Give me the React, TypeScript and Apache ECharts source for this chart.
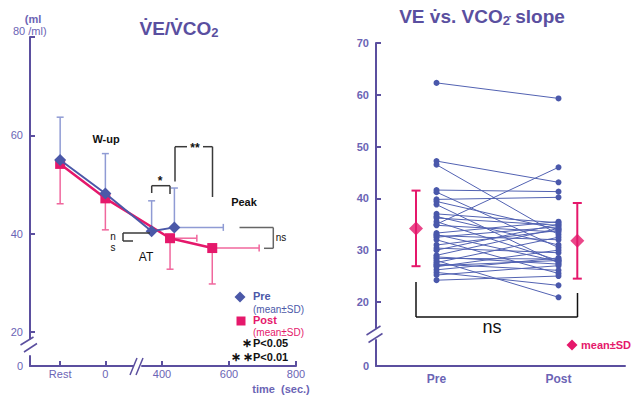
import React, { useEffect, useRef } from 'react';
import * as echarts from 'echarts';

// ---------- colours ----------
const AXIS = '#5b4f9f';
const LABEL = '#6b64b5';
const PRE_C = '#4b58a8';
const POST_C = '#e5186b';
const PRE_ERR = '#8f9bd4';
const POST_ERR = '#f0679d';
const DARK = '#3a3a3a';
const FONT = '"Liberation Sans", Arial, Helvetica, sans-serif';

// ---------- left chart data ----------
const REST_X = -135;
const X_TICKS = [REST_X, 0, 400, 600, 800];
const X_TICK_LABELS = ['Rest', '0', '400', '600', '800'];
const LEFT_Y_TICKS = [0, 20, 40, 60, 80];
const PHASES = ['Rest', 'W-up', 'AT', 'Peak'];
const PRE_TIME = [REST_X, 0, 369, 437];
const PRE_MEAN = [55.0, 48.2, 40.5, 41.3];
const PRE_SD = [8.7, 8.1, 6.2, 8.0];
const PRE_TIME_SD = [0, 0, 0, 146];
const POST_TIME = [REST_X, 0, 424, 550];
const POST_MEAN = [54.2, 47.2, 39.1, 37.1];
const POST_SD = [8.1, 6.4, 6.3, 7.3];
const POST_TIME_SD = [0, 0, 80, 140];

// ---------- right chart data ----------
const GROUPS = ['Pre', 'Post'];
const RIGHT_Y_TICKS = [0, 20, 30, 40, 50, 60, 70];
const SLOPE_PRE = [62.3, 47.2, 46.5, 41.6, 41.2, 39.8, 39.4, 38.8, 37.0, 36.5, 36.2, 35.5, 35.0, 34.8, 33.3, 33.0, 32.8, 32.5, 32.0, 31.0, 30.4, 30.0, 29.0, 28.7, 28.4, 28.0, 27.6, 27.3, 27.0, 26.8, 26.2, 25.7, 25.2, 24.2];
const SLOPE_POST = [59.3, 43.1, 33.0, 41.3, 30.5, 40.2, 34.0, 27.5, 35.3, 31.0, 34.8, 28.0, 46.0, 33.5, 35.5, 27.8, 32.0, 34.5, 25.5, 33.8, 29.5, 35.0, 34.2, 27.3, 28.3, 20.9, 32.5, 26.1, 28.0, 30.0, 28.5, 23.2, 27.0, 25.0];
const MEAN_SLOPE = [34.2, 31.8];
const SD_SLOPE = [7.3, 7.3];

// ---------- helpers ----------
const lineEl = (x1: number, y1: number, x2: number, y2: number, stroke = DARK, lw = 1.5) => ({
  type: 'line', silent: true, z: 100,
  shape: { x1, y1, x2, y2 }, style: { stroke, lineWidth: lw },
});
const textEl = (text: string, x: number, y: number, fill: string, font: string, align = 'center') => ({
  type: 'text', silent: true, z: 100, x, y,
  style: { text, fill, font, textAlign: align, textVerticalAlign: 'middle' },
});
const rectEl = (x: number, y: number, width: number, height: number, fill = '#fff') => ({
  type: 'rect', silent: true, z: 99, shape: { x, y, width, height }, style: { fill },
});

const vBar = (color: string, cap: number, lw: number, both = false) => (_p: any, api: any) => {
  const x = api.value(0);
  const a = api.coord([x, api.value(1)]);
  const b = api.coord([x, api.value(2)]);
  const children: any[] = [
    { type: 'line', shape: { x1: a[0], y1: a[1], x2: b[0], y2: b[1] }, style: { stroke: color, lineWidth: lw } },
    { type: 'line', shape: { x1: b[0] - cap / 2, y1: b[1], x2: b[0] + cap / 2, y2: b[1] }, style: { stroke: color, lineWidth: lw } },
  ];
  if (both) children.push({ type: 'line', shape: { x1: a[0] - cap / 2, y1: a[1], x2: a[0] + cap / 2, y2: a[1] }, style: { stroke: color, lineWidth: lw } });
  return { type: 'group', children };
};
const hBar = (color: string, cap: number, lw: number) => (_p: any, api: any) => {
  const y = api.value(1);
  const a = api.coord([api.value(0), y]);
  const b = api.coord([api.value(2), y]);
  return {
    type: 'group', children: [
      { type: 'line', shape: { x1: a[0], y1: a[1], x2: b[0], y2: b[1] }, style: { stroke: color, lineWidth: lw } },
      { type: 'line', shape: { x1: b[0], y1: b[1] - cap / 2, x2: b[0], y2: b[1] + cap / 2 }, style: { stroke: color, lineWidth: lw } },
    ],
  };
};

function buildOption(): any {
  const preV = PRE_TIME.map((t, i) => [t, PRE_MEAN[i], PRE_MEAN[i] + PRE_SD[i]]);
  const postV = POST_TIME.map((t, i) => [t, POST_MEAN[i], POST_MEAN[i] - POST_SD[i]]);
  const preH = PRE_TIME.map((t, i) => [t, PRE_MEAN[i], t + PRE_TIME_SD[i]]).filter((_, i) => PRE_TIME_SD[i] > 0);
  const postH = POST_TIME.map((t, i) => [t, POST_MEAN[i], t + POST_TIME_SD[i]]).filter((_, i) => POST_TIME_SD[i] > 0);

  const GROUP_X = [1, 2];
  const MEAN_OFFSET = [-0.168, 0.154];
  const meanPts = GROUP_X.map((g, i) => [g + MEAN_OFFSET[i], MEAN_SLOPE[i]]);
  const meanBars = GROUP_X.map((g, i) => [g + MEAN_OFFSET[i], MEAN_SLOPE[i] - SD_SLOPE[i], MEAN_SLOPE[i] + SD_SLOPE[i]]);

  const subjectSeries = SLOPE_PRE.map((v, i) => ({
    type: 'line', xAxisIndex: 1, yAxisIndex: 1, silent: true, z: 2,
    data: [[GROUP_X[0], v], [GROUP_X[1], SLOPE_POST[i]]],
    symbol: 'circle', symbolSize: 6,
    itemStyle: { color: '#4a58ab' },
    lineStyle: { color: '#5262b2', width: 1 },
  }));

  const axisLine = { show: true, onZero: false, lineStyle: { color: AXIS, width: 2 } };

  return {
    animation: false,
    backgroundColor: '#ffffff',
    grid: [
      { left: 30, top: 37, width: 266, height: 329 },
      { left: 376, top: 43, width: 249, height: 323 },
    ],
    xAxis: [
      {
        type: 'value', gridIndex: 0, min: -225, max: 800,
        breaks: [{ start: 90, end: 340, gap: '2.4%' }],
        breakArea: { show: false },
        axisLine,
        axisTick: { show: true, inside: true, length: 5, customValues: X_TICKS, lineStyle: { color: AXIS, width: 2 } },
        axisLabel: {
          customValues: X_TICKS, margin: 2, color: LABEL, fontSize: 11, fontFamily: FONT,
          formatter: (v: number) => X_TICK_LABELS[X_TICKS.indexOf(v)] ?? '',
        },
        splitLine: { show: false },
      },
      {
        type: 'value', gridIndex: 1, min: 0.504, max: 2.545,
        axisLine,
        axisTick: { show: false },
        axisLabel: {
          customValues: GROUP_X, margin: 7, color: LABEL, fontSize: 12, fontWeight: 'bold', fontFamily: FONT,
          formatter: (v: number) => GROUPS[GROUP_X.indexOf(v)] ?? '',
        },
        splitLine: { show: false },
      },
    ],
    yAxis: [
      {
        type: 'value', gridIndex: 0, min: 0, max: 80,
        breaks: [{ start: 2, end: 18, gap: '4.3%' }],
        breakArea: { show: false },
        axisLine,
        axisTick: { show: true, inside: true, length: 5, customValues: LEFT_Y_TICKS.slice(1), lineStyle: { color: AXIS, width: 2 } },
        axisLabel: {
          customValues: LEFT_Y_TICKS.slice(0, 4), margin: 7, color: LABEL, fontSize: 11, fontFamily: FONT,
        },
        splitLine: { show: false },
      },
      {
        type: 'value', gridIndex: 1, min: 0, max: 70,
        breaks: [{ start: 5, end: 15, gap: '3.8%' }],
        breakArea: { show: false },
        axisLine,
        axisTick: { show: true, inside: true, length: 5, customValues: RIGHT_Y_TICKS.slice(1), lineStyle: { color: AXIS, width: 2 } },
        axisLabel: {
          customValues: RIGHT_Y_TICKS, margin: 7, color: LABEL, fontSize: 11, fontWeight: 'bold', fontFamily: FONT,
        },
        splitLine: { show: false },
      },
    ],
    series: [
      { type: 'custom', name: 'pre-sd', xAxisIndex: 0, yAxisIndex: 0, z: 1, silent: true, data: preV, encode: { x: 0, y: 1 }, renderItem: vBar(PRE_ERR, 7, 1.5) },
      { type: 'custom', name: 'post-sd', xAxisIndex: 0, yAxisIndex: 0, z: 1, silent: true, data: postV, encode: { x: 0, y: 1 }, renderItem: vBar(POST_ERR, 7, 1.5) },
      { type: 'custom', name: 'pre-tsd', xAxisIndex: 0, yAxisIndex: 0, z: 1, silent: true, data: preH, encode: { x: 0, y: 1 }, renderItem: hBar(PRE_ERR, 7, 1.5) },
      { type: 'custom', name: 'post-tsd', xAxisIndex: 0, yAxisIndex: 0, z: 1, silent: true, data: postH, encode: { x: 0, y: 1 }, renderItem: hBar(POST_ERR, 7, 1.5) },
      {
        type: 'line', name: 'Post', xAxisIndex: 0, yAxisIndex: 0, z: 3,
        data: POST_TIME.map((t, i) => [t, POST_MEAN[i]]),
        symbol: 'rect', symbolSize: 10,
        itemStyle: { color: POST_C }, lineStyle: { color: POST_C, width: 2.5 },
      },
      {
        type: 'line', name: 'Pre', xAxisIndex: 0, yAxisIndex: 0, z: 4,
        data: PRE_TIME.map((t, i) => [t, PRE_MEAN[i]]),
        symbol: 'diamond', symbolSize: 12,
        itemStyle: { color: PRE_C }, lineStyle: { color: PRE_C, width: 2 },
      },
      ...subjectSeries,
      { type: 'custom', name: 'mean-sd', xAxisIndex: 1, yAxisIndex: 1, z: 4, silent: true, data: meanBars, encode: { x: 0, y: 1 }, renderItem: vBar(POST_C, 9, 2, true) },
      {
        type: 'scatter', name: 'mean', xAxisIndex: 1, yAxisIndex: 1, z: 5, silent: true,
        data: meanPts, symbol: 'diamond', symbolSize: 14, itemStyle: { color: POST_C },
      },
    ],
    graphic: {
      elements: [
        // titles
        {
          type: 'text', silent: true, z: 100, x: 179, y: 28,
          style: {
            text: '{t|V\u0307E/V\u0307CO}{s|2}', textAlign: 'center', textVerticalAlign: 'middle',
            rich: {
              t: { fontSize: 19, fontWeight: 'bold', fill: '#5a4fa0', fontFamily: FONT },
              s: { fontSize: 13, fontWeight: 'bold', fill: '#5a4fa0', fontFamily: FONT, padding: [9, 0, 0, 0] },
            },
          },
        },
        {
          type: 'text', silent: true, z: 100, x: 482, y: 16,
          style: {
            text: '{t|VE v\u0307s. VCO}{s|2\u0307}{t| slope}', textAlign: 'center', textVerticalAlign: 'middle',
            rich: {
              t: { fontSize: 19, fontWeight: 'bold', fill: '#5a4fa0', fontFamily: FONT },
              s: { fontSize: 13, fontWeight: 'bold', fill: '#5a4fa0', fontFamily: FONT, padding: [9, 0, 0, 0] },
            },
          },
        },
        // left y-axis unit and top label
        textEl('(ml', 33, 19, LABEL, `bold 11px ${FONT}`),
        textEl('80 /ml)', 13, 31, LABEL, `11px ${FONT}`, 'left'),
        // axis breaks
        rectEl(26, 339.5, 9, 7.5),
        lineEl(20.5, 345, 33.5, 337, AXIS, 1.5),
        lineEl(24, 352, 37, 343.5, AXIS, 1.5),
        rectEl(372, 329.5, 9, 7.5),
        lineEl(366.5, 335, 380.5, 326, AXIS, 1.5),
        lineEl(368.5, 342.5, 382.5, 333.5, AXIS, 1.5),
        rectEl(134, 361, 5.5, 9),
        lineEl(130, 375, 137, 358, AXIS, 1.5),
        lineEl(136, 375, 143, 358, AXIS, 1.5),
        // left annotations
        textEl('W-up', 106, 139, '#111', `bold 11px ${FONT}`),
        lineEl(151.7, 193, 151.7, 185.7), lineEl(151.7, 185.7, 170, 185.7), lineEl(170, 185.7, 170, 194),
        textEl('*', 160, 181, '#111', `bold 12px ${FONT}`),
        lineEl(175, 181.5, 175, 146.7), lineEl(175, 146.7, 187, 146.7), lineEl(203, 146.7, 212.5, 146.7), lineEl(212.5, 146.7, 212.5, 197),
        textEl('**', 195, 148, '#111', `bold 12px ${FONT}`),
        lineEl(150, 233, 123, 233), lineEl(123, 233, 123, 241), lineEl(123, 241, 133, 241),
        textEl('n', 113, 236, '#111', `10px ${FONT}`),
        textEl('s', 113, 247, '#111', `10px ${FONT}`),
        textEl('AT', 146, 257, '#111', `12px ${FONT}`),
        textEl('Peak', 244, 202, '#111', `bold 11px ${FONT}`),
        lineEl(239.5, 227.5, 273.3, 227.5, '#666'), lineEl(273.3, 227.5, 273.3, 248.3, '#666'), lineEl(273.3, 248.3, 264, 248.3, '#666'),
        textEl('ns', 281, 237, '#111', `10px ${FONT}`),
        // left legend
        { type: 'polygon', silent: true, z: 100, shape: { points: [[240, 291.5], [245.5, 297], [240, 302.5], [234.5, 297]] }, style: { fill: PRE_C } },
        textEl('Pre', 253, 296, PRE_C, `bold 11px ${FONT}`, 'left'),
        textEl('(mean\u00b1SD)', 253, 309, PRE_C, `10px ${FONT}`, 'left'),
        rectEl(236.5, 316.5, 9, 9, POST_C),
        textEl('Post', 253, 320, POST_C, `bold 11px ${FONT}`, 'left'),
        textEl('(mean\u00b1SD)', 253, 332, POST_C, `10px ${FONT}`, 'left'),
        textEl('\u2217', 247, 343, '#111', `bold 12px ${FONT}`),
        textEl('P<0.05', 253, 343, '#111', `bold 11px ${FONT}`, 'left'),
        textEl('\u2217', 236, 357, '#111', `bold 12px ${FONT}`),
        textEl('\u2217', 247.5, 357, '#111', `bold 12px ${FONT}`),
        textEl('P<0.01', 253, 357, '#111', `bold 11px ${FONT}`, 'left'),
        textEl('time  (sec.)', 281, 389, LABEL, `bold 11px ${FONT}`),
        // right annotations
        lineEl(416, 282, 416, 317, '#111', 1.5), lineEl(416, 317, 577.5, 317, '#111', 1.5), lineEl(577.5, 317, 577.5, 293, '#111', 1.5),
        textEl('ns', 492, 327, '#111', `18px ${FONT}`),
        { type: 'polygon', silent: true, z: 100, shape: { points: [[572, 339.5], [577.5, 345], [572, 350.5], [566.5, 345]] }, style: { fill: POST_C } },
        textEl('mean\u00b1SD', 581, 345, POST_C, `bold 11px ${FONT}`, 'left'),
      ],
    },
  };
}

export default function App() {
  const ref = useRef<HTMLDivElement>(null);
  useEffect(() => {
    if (!ref.current) return;
    const chart = echarts.init(ref.current, null, { renderer: 'svg' });
    chart.setOption(buildOption());
    return () => chart.dispose();
  }, []);
  return (
    <div
      ref={ref}
      style={{ position: 'fixed', left: 0, top: 0, width: 640, height: 399, background: '#fff' }}
    />
  );
}
